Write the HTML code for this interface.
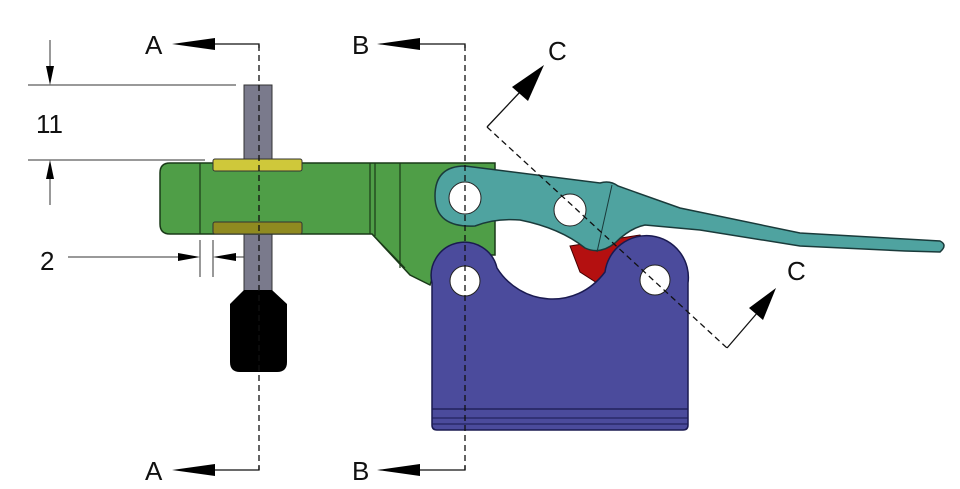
<!DOCTYPE html>
<html><head><meta charset="utf-8"><style>
html,body{margin:0;padding:0;background:#fff;width:960px;height:489px;overflow:hidden}
svg{display:block}
text{font-family:"Liberation Sans",sans-serif;fill:#111}
</style></head><body>
<svg width="960" height="489" viewBox="0 0 960 489" xmlns="http://www.w3.org/2000/svg">
<g stroke="#333" stroke-width="1" fill="none">
<line x1="28" y1="85" x2="236" y2="85"/>
<line x1="28" y1="160" x2="205" y2="160"/>
<line x1="50" y1="40" x2="50" y2="70"/>
<line x1="50" y1="175" x2="50" y2="205"/>
<line x1="68" y1="257" x2="185" y2="257"/>
<line x1="200" y1="240" x2="200" y2="277"/>
<line x1="213" y1="240" x2="213" y2="277"/>
<line x1="228" y1="257" x2="258" y2="257"/>
</g>
<polygon points="46,66 54,66 50,85" fill="#000"/>
<polygon points="46,179 54,179 50,160" fill="#000"/>
<polygon points="178,253 178,261 200,257" fill="#000"/>
<polygon points="236,253 236,261 213,257" fill="#000"/>
<text x="36" y="133" font-size="26">11</text>
<text x="40" y="270" font-size="26">2</text>

<rect x="244" y="85" width="28" height="210" fill="#7a7a8c" stroke="#333" stroke-width="1"/>
<path d="M244,290 L272,290 L287,304 L287,362 Q287,372 277,372 L240,372 Q230,372 230,362 L230,304 Z" fill="#000"/>

<path d="M170,163 L495,163 L495,255 L440,255 L430,285 L410,275 L372,234 L170,234 Q160,234 160,224 L160,173 Q160,163 170,163 Z" fill="#4f9e47" stroke="#1a3a18" stroke-width="1.5"/>
<g stroke="#1a3a18" stroke-width="1.2">
<line x1="200" y1="163" x2="200" y2="234"/>
<line x1="370" y1="163" x2="370" y2="234"/>
<line x1="375" y1="163" x2="375" y2="236"/>
<line x1="400" y1="163" x2="400" y2="268"/>
<line x1="372" y1="234" x2="405" y2="268"/>
</g>
<rect x="213" y="159" width="89" height="12" rx="2" fill="#cfc83a" stroke="#333"/>
<rect x="213" y="222" width="89" height="12" rx="2" fill="#8f8a20" stroke="#333"/>

<polygon points="570,246 640,235 652,250 608,290 580,272" fill="#b41010" stroke="#400" stroke-width="1"/>

<path d="M432,283 A33,33 0 0 1 497,268 C520,305 575,312 605,272 A33,33 0 0 1 688,283 L688,425 Q688,430 683,430 L437,430 Q432,430 432,425 Z" fill="#4b4b9c" stroke="#1a1a50" stroke-width="1.5"/>
<line x1="432" y1="409" x2="688" y2="409" stroke="#1a1a50" stroke-width="1.2"/>
<line x1="432" y1="418" x2="688" y2="418" stroke="#1a1a50" stroke-width="1"/>
<line x1="432" y1="424" x2="688" y2="424" stroke="#1a1a50" stroke-width="1"/>
<circle cx="465" cy="281" r="15" fill="#fff" stroke="#222"/>
<circle cx="655" cy="280" r="15" fill="#fff" stroke="#222"/>

<path d="M465,166 L600,183 Q610,180 618,186 L680,208 L800,233 L905,239 L940,241 Q948,245 940,252 L905,251 L800,246 L700,230 L645,225 Q630,228 615,243 Q600,255 585,248 Q560,228 520,220 Q495,218 475,226 Q435,228 435,196 Q435,166 465,166 Z" fill="#4fa3a0" stroke="#1a3a3a" stroke-width="1.5"/>
<line x1="612" y1="185" x2="597" y2="252" stroke="#1a3a3a" stroke-width="1"/>
<circle cx="465" cy="198" r="16" fill="#fff" stroke="#222"/>
<circle cx="570" cy="210" r="16" fill="#fff" stroke="#222"/>

<g stroke="#111" stroke-width="1.3" fill="none" stroke-dasharray="6,4">
<line x1="259" y1="45" x2="259" y2="470"/>
<line x1="465" y1="45" x2="465" y2="470"/>
<line x1="487" y1="127" x2="727" y2="348"/>
</g>
<g stroke="#111" stroke-width="1.3" fill="none">
<polyline points="215,44 259,44 259,48"/>
<polyline points="215,470 259,470 259,466"/>
<polyline points="420,44 465,44 465,48"/>
<polyline points="420,470 465,470 465,466"/>
<polyline points="487,127 520,92"/>
<polyline points="727,348 758,312"/>
</g>
<polygon points="172,44 215,38 215,50" fill="#000"/>
<polygon points="172,470 215,464 215,476" fill="#000"/>
<polygon points="377,44 420,38 420,50" fill="#000"/>
<polygon points="377,470 420,464 420,476" fill="#000"/>
<polygon points="544,65 528,101 512,87" fill="#000"/>
<polygon points="776,288 763,320 749,308" fill="#000"/>
<text x="145" y="54" font-size="26">A</text>
<text x="145" y="480" font-size="26">A</text>
<text x="352" y="54" font-size="26">B</text>
<text x="352" y="480" font-size="26">B</text>
<text x="548" y="60" font-size="26">C</text>
<text x="787" y="280" font-size="26">C</text>
</svg>
</body></html>
